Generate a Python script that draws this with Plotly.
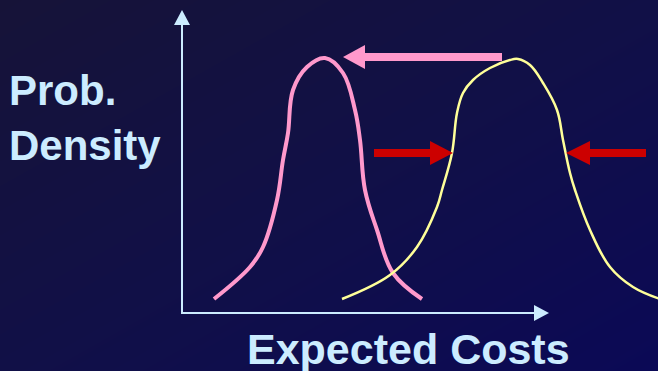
import plotly.graph_objects as go

# Cost distribution before improvement (yellow) and after (pink)
costs_after = [32, 68, 81, 95, 101, 106, 111, 125, 143, 161, 173, 178, 183, 195, 211, 240]
density_after = [14, 46, 66, 113, 153, 180, 223, 246, 255, 240, 203, 173, 123, 83, 40, 14]

costs_before = [160, 208, 235, 255, 260, 270, 275, 281, 291, 308, 328, 336, 348, 361,
                375, 381, 388, 393, 408, 428, 451, 478]
density_before = [14, 38, 66, 106, 123, 160, 200, 220, 233, 245, 253, 254, 248, 230,
                   203, 173, 140, 123, 83, 46, 26, 14]

# Axis labels
y_label = "Prob.<br>Density"
x_label = "Expected Costs"

W, H = 658, 371
X0, Y0 = 182, 313          # pixel position of the axis origin
x_range = [-X0, W - X0]
y_range = [-(H - Y0), Y0]

AXIS_C = "#CCECFF"
PINK = "#FF99CC"
YELLOW = "#FFFF99"
RED = "#CC0000"
FONT = "Arial, 'Liberation Sans', sans-serif"

fig = go.Figure()

# Diagonal navy background
fig.add_trace(go.Heatmap(
    x=x_range, y=y_range,
    z=[[1, 2], [0, 1]],
    zsmooth="best", showscale=False, hoverinfo="skip",
    colorscale=[[0, "#161338"], [0.5, "#111047"], [1, "#0b0956"]],
))

fig.add_trace(go.Scatter(
    x=costs_after, y=density_after, mode="lines",
    line=dict(color=PINK, width=4, shape="spline", smoothing=1.1),
    hoverinfo="skip",
))
fig.add_trace(go.Scatter(
    x=costs_before, y=density_before, mode="lines",
    line=dict(color=YELLOW, width=2.5, shape="spline", smoothing=1.1),
    hoverinfo="skip",
))


def tri(points, color):
    path = "M " + " L ".join(f"{x},{y}" for x, y in points) + " Z"
    return dict(type="path", path=path, xref="x", yref="y",
                fillcolor=color, line=dict(width=0), layer="above")


def bar(x0, x1, yc, half, color):
    return dict(type="rect", x0=x0, x1=x1, y0=yc - half, y1=yc + half,
                xref="x", yref="y", fillcolor=color, line=dict(width=0), layer="above")


shapes = [
    # axes with arrowheads
    dict(type="line", x0=0, y0=0, x1=0, y1=289, xref="x", yref="y",
         line=dict(color=AXIS_C, width=2)),
    dict(type="line", x0=-1, y0=0, x1=353, y1=0, xref="x", yref="y",
         line=dict(color=AXIS_C, width=2)),
    tri([(-8, 288), (8, 288), (0, 303)], AXIS_C),
    tri([(352, -8), (352, 8), (367, 0)], AXIS_C),
    # shift of the distribution towards lower costs
    bar(182, 320, 256, 4, PINK),
    tri([(183, 268), (183, 244), (161, 256)], PINK),
    # narrowing of the spread
    bar(192, 249, 160, 4, RED),
    tri([(248, 172), (248, 148), (271, 160)], RED),
    bar(407, 464, 160, 4, RED),
    tri([(408, 172), (408, 148), (384, 160)], RED),
]

annotations = [
    dict(text=y_label, x=-175, y=Y0 - 118, xref="x", yref="y",
         xanchor="left", yanchor="middle", align="left", showarrow=False,
         font=dict(family=FONT, size=42, color=AXIS_C, weight="bold")),
    dict(text=x_label, x=408 - X0, y=Y0 - 349, xref="x", yref="y",
         xanchor="center", yanchor="middle", showarrow=False,
         font=dict(family=FONT, size=43, color=AXIS_C, weight="bold")),
]

fig.update_layout(
    width=W, height=H,
    margin=dict(l=0, r=0, t=0, b=0),
    paper_bgcolor="#111045", plot_bgcolor="#111045",
    showlegend=False,
    xaxis=dict(range=x_range, visible=False, fixedrange=True),
    yaxis=dict(range=y_range, visible=False, fixedrange=True),
    shapes=shapes, annotations=annotations,
)

fig.write_html("out.html", config={"displayModeBar": False})
